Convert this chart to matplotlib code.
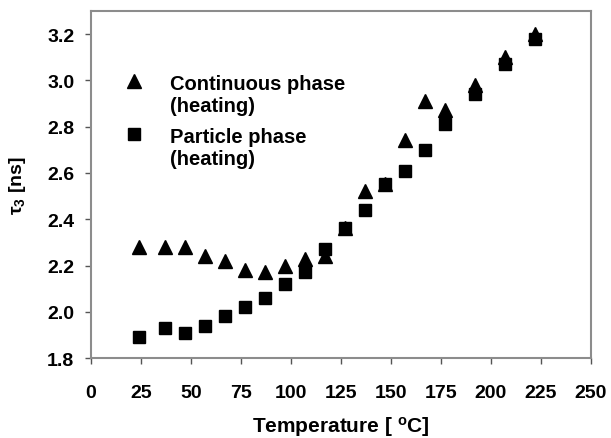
import matplotlib.pyplot as plt

# temperatures (deg C) and tau3 values (ns)
temp = [24, 37, 47, 57, 67, 77, 87, 97, 107, 117, 127, 137, 147, 157, 167, 177, 192, 207, 222]
cont_heating = [2.28, 2.28, 2.28, 2.24, 2.22, 2.18, 2.17, 2.20, 2.23, 2.24, 2.36, 2.52, 2.55,
                2.74, 2.91, 2.87, 2.98, 3.10, 3.20]
part_heating = [1.89, 1.93, 1.91, 1.94, 1.98, 2.02, 2.06, 2.12, 2.17, 2.27, 2.36, 2.44, 2.55,
                2.61, 2.70, 2.81, 2.94, 3.07, 3.18]

xticks = [0, 25, 50, 75, 100, 125, 150, 175, 200, 225, 250]
yticks = [1.8, 2.0, 2.2, 2.4, 2.6, 2.8, 3.0, 3.2]

plt.rcParams['font.family'] = ['Liberation Sans', 'DejaVu Sans']
plt.rcParams['font.weight'] = 'bold'

fig = plt.figure(figsize=(6.11, 4.39), dpi=100)
ax = fig.add_axes([0.149, 0.182, 0.818, 0.791])

ax.plot(temp, cont_heating, '^', color='black', markersize=10, label='Continuous phase\n(heating)')
ax.plot(temp, part_heating, 's', color='black', markersize=8.5, label='Particle phase\n(heating)')

ax.set_xlim(0, 250)
ax.set_ylim(1.8, 3.3)
ax.set_xticks(xticks)
ax.set_yticks(yticks)
ax.set_yticklabels(['%.1f' % v for v in yticks])

for s in ax.spines.values():
    s.set_color('#8c8c8c')
    s.set_linewidth(1.5)
ax.tick_params(direction='out', length=4, width=1, color='#555555', labelsize=14)
ax.tick_params(axis='x', pad=15)
ax.tick_params(axis='y', pad=8)
for lab in ax.get_xticklabels() + ax.get_yticklabels():
    lab.set_fontweight('bold')

ax.set_xlabel('Temperature [ $\\mathregular{^{o}}$C]', fontsize=15, fontweight='bold', labelpad=9)
ax.set_ylabel('$\\mathregular{\\tau_3}$ [ns]', fontsize=14, fontweight='bold', labelpad=14)

leg = ax.legend(loc='upper left', bbox_to_anchor=(0.025, 0.87), frameon=False,
                prop={'size': 14.5, 'weight': 'bold'}, handletextpad=1.2,
                labelspacing=0.6, handlelength=1.2)
# put each marker next to the first line of its label
for col in leg._legend_handle_box.get_children():
    for row in col.get_children():
        row.align = 'top'

fig.savefig('out.png', dpi=100)
